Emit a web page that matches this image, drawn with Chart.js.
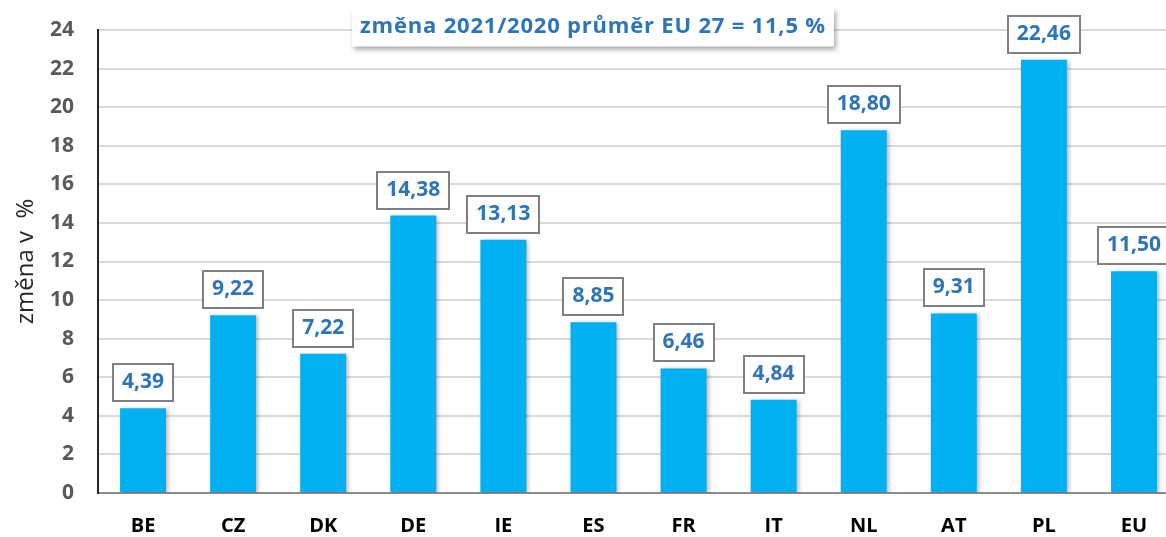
<!DOCTYPE html>
<html>
<head>
<meta charset="utf-8">
<script src="https://cdn.jsdelivr.net/npm/chart.js@4/dist/chart.umd.min.js"></script>
<style>
html,body{margin:0;padding:0;background:#fff;overflow:hidden;width:1166px;height:537px;}
canvas{display:block;}
</style>
</head>
<body>
<canvas id="c" width="1179" height="537"></canvas>
<script>
const categories = ['BE','CZ','DK','DE','IE','ES','FR','IT','NL','AT','PL','EU'];
const values = [4.39, 9.22, 7.22, 14.38, 13.13, 8.85, 6.46, 4.84, 18.80, 9.31, 22.46, 11.50];
const yTicks = [0,2,4,6,8,10,12,14,16,18,20,22,24];
const titleText = 'změna 2021/2020 průměr EU 27 = 11,5 %';
const yAxisTitle = 'změna v  %';

const FONT = '"Open Sans", "DejaVu Sans", sans-serif';

const barShadow = {
  id: 'barShadow',
  beforeDatasetDraw(chart) {
    const ctx = chart.ctx;
    ctx.save();
    ctx.shadowColor = 'rgba(0,0,0,0.28)';
    ctx.shadowBlur = 4;
    ctx.shadowOffsetX = 2;
    ctx.shadowOffsetY = 1;
  },
  afterDatasetDraw(chart) {
    chart.ctx.restore();
  }
};

const valueBoxes = {
  id: 'valueBoxes',
  afterDatasetsDraw(chart) {
    const ctx = chart.ctx;
    const meta = chart.getDatasetMeta(0);
    ctx.save();
    ctx.font = 'bold 21px ' + FONT;
    ctx.textAlign = 'center';
    ctx.textBaseline = 'middle';
    meta.data.forEach((bar, i) => {
      const txt = values[i].toFixed(2).replace('.', ',');
      const w = ctx.measureText(txt).width + 18;
      const h = 37;
      const bottom = bar.y - 7;
      const x0 = Math.round(bar.x - w / 2);
      const y0 = Math.round(bottom - h);
      ctx.fillStyle = '#ffffff';
      ctx.fillRect(x0, y0, w, h);
      ctx.lineWidth = 2;
      ctx.strokeStyle = '#7f7f7f';
      ctx.strokeRect(x0, y0, w, h);
      ctx.fillStyle = '#2E75B6';
      ctx.fillText(txt, bar.x, y0 + h / 2);
    });
    ctx.restore();
  }
};

const titleBox = {
  id: 'titleBox',
  afterDraw(chart) {
    const ctx = chart.ctx;
    ctx.save();
    ctx.font = 'bold 22px ' + FONT;
    if ('letterSpacing' in ctx) ctx.letterSpacing = '0.8px';
    const tw = ctx.measureText(titleText).width;
    const w = tw + 16, h = 39;
    const cx = 593, cy = 27;
    ctx.shadowColor = 'rgba(0,0,0,0.35)';
    ctx.shadowBlur = 5;
    ctx.shadowOffsetX = 2;
    ctx.shadowOffsetY = 3;
    ctx.fillStyle = '#ffffff';
    ctx.fillRect(cx - w / 2, cy - h / 2, w, h);
    ctx.shadowColor = 'transparent';
    ctx.fillStyle = '#2E75B6';
    ctx.textAlign = 'center';
    ctx.textBaseline = 'middle';
    ctx.fillText(titleText, cx, cy);
    ctx.restore();
  }
};

new Chart(document.getElementById('c'), {
  type: 'bar',
  data: {
    labels: categories,
    datasets: [{
      data: values,
      backgroundColor: '#00B0F0',
      borderWidth: 0,
      categoryPercentage: 1,
      barPercentage: 0.51
    }]
  },
  options: {
    responsive: false,
    devicePixelRatio: 1,
    animation: false,
    layout: { padding: { top: 30, right: 0, bottom: 0, left: 0 } },
    plugins: { legend: { display: false }, tooltip: { enabled: false } },
    scales: {
      x: {
        grid: { display: false, drawTicks: false },
        border: { display: true, color: '#8c8c8c', width: 2 },
        ticks: { color: '#000000', font: { family: FONT, size: 20, weight: 'bold' }, padding: 21, maxRotation: 0 },
        afterFit(s) { s.height = 44; }
      },
      y: {
        min: 0, max: 24,
        afterBuildTicks(s) { s.ticks = yTicks.map(v => ({ value: v })); },
        grid: { color: '#d9d9d9', lineWidth: 2, drawTicks: false },
        border: { display: true, color: '#262626', width: 2 },
        ticks: { color: '#595959', font: { family: FONT, size: 21, weight: 'bold' }, padding: 24 },
        title: { display: true, text: yAxisTitle, color: '#262626', font: { family: FONT, size: 24 }, padding: { top: 12, bottom: 0 } },
        afterFit(s) { s.width = 98; s.paddingTop = 0; s.paddingBottom = 0; }
      }
    }
  },
  plugins: [barShadow, valueBoxes, titleBox]
});
</script>
</body>
</html>
